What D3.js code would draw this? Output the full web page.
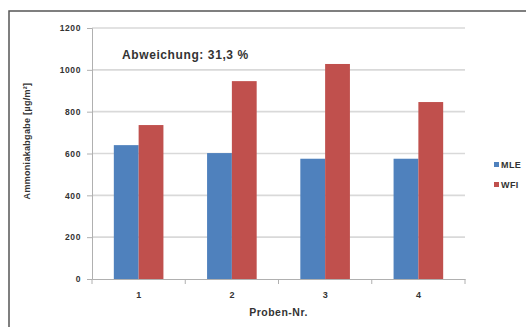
<!DOCTYPE html>
<html>
<head>
<meta charset="utf-8">
<script src="https://cdn.jsdelivr.net/npm/d3@7"></script>
<style>
  html, body { margin: 0; padding: 0; background: #fff; }
  svg { display: block; font-family: Arial, "Liberation Sans", sans-serif; }
</style>
</head>
<body>
<svg id="chart" width="526" height="327"></svg>
<script>
// Ammonia release per sample, two measuring methods
const categories = ["1", "2", "3", "4"];
const seriesNames = ["MLE", "WFI"];
const mleValues = [640, 602, 575, 575];
const wfiValues = [736, 946, 1028, 846];
const yTicks = [0, 200, 400, 600, 800, 1000, 1200];
const colors = ["#4f81bd", "#c0504d"];
const annotation = "Abweichung: 31,3 %";
const xTitle = "Proben-Nr.";
const yTitle = "Ammoniakabgabe [µg/m²]";

const svg = d3.select("#chart");

// outer frame
svg.append("rect")
  .attr("x", 9).attr("y", 11)
  .attr("width", 540).attr("height", 340)
  .attr("fill", "none").attr("stroke", "#555").attr("stroke-width", 1.5);

const plot = { left: 92, right: 465, top: 28, bottom: 279 };

const x = d3.scaleBand().domain(categories).range([plot.left, plot.right]);
const xSub = d3.scaleBand().domain(seriesNames)
  .range([0, x.bandwidth()]).paddingOuter(0.88).paddingInner(0);
const y = d3.scaleLinear().domain([0, 1200]).range([plot.bottom, plot.top]);

// gridlines
svg.append("g")
  .selectAll("line")
  .data(yTicks.filter(d => d > 0))
  .join("line")
  .attr("x1", plot.left).attr("x2", plot.right)
  .attr("y1", d => y(d)).attr("y2", d => y(d))
  .attr("stroke", "#d9d9d9").attr("stroke-width", 1.6);

// bars
const rows = categories.map((c, i) => ({ cat: c, vals: [mleValues[i], wfiValues[i]] }));
const groups = svg.append("g").selectAll("g")
  .data(rows).join("g")
  .attr("transform", d => `translate(${x(d.cat)},0)`);
groups.selectAll("rect")
  .data(d => d.vals.map((v, j) => ({ name: seriesNames[j], v, j })))
  .join("rect")
  .attr("x", d => xSub(d.name))
  .attr("width", xSub.bandwidth())
  .attr("y", d => y(d.v))
  .attr("height", d => y(0) - y(d.v))
  .attr("fill", d => colors[d.j]);

// y axis
const yAxis = svg.append("g")
  .attr("transform", `translate(${plot.left},0)`)
  .call(d3.axisLeft(y).tickValues(yTicks).tickSize(5).tickPadding(6).tickFormat(d3.format("d")));
yAxis.select(".domain").attr("stroke", "#b0b0b0");
yAxis.selectAll(".tick line").attr("stroke", "#b0b0b0");
yAxis.selectAll("text").attr("font-size", 8.5).attr("letter-spacing", 0.6)
  .attr("font-weight", "bold").attr("fill", "#333");

// x axis with boundary ticks
const xAxis = svg.append("g")
  .attr("transform", `translate(0,${plot.bottom})`)
  .call(d3.axisBottom(x).tickSize(0).tickPadding(13));
xAxis.select(".domain").attr("stroke", "#b0b0b0");
xAxis.selectAll("text").attr("font-size", 9).attr("font-weight", "bold").attr("fill", "#333");
const bounds = categories.map(c => x(c)).concat([x(categories[categories.length - 1]) + x.bandwidth()]);
xAxis.selectAll("line.bound").data(bounds).join("line")
  .attr("class", "bound")
  .attr("x1", d => d).attr("x2", d => d)
  .attr("y1", 0).attr("y2", 5)
  .attr("stroke", "#b0b0b0");

// titles
svg.append("text")
  .attr("x", (plot.left + plot.right) / 2).attr("y", 316)
  .attr("text-anchor", "middle")
  .attr("font-size", 10.5).attr("letter-spacing", 0.5)
  .attr("font-weight", "bold").attr("fill", "#333")
  .text(xTitle);

svg.append("text")
  .attr("transform", "translate(30,141) rotate(-90)")
  .attr("text-anchor", "middle")
  .attr("font-size", 9).attr("letter-spacing", 0.3)
  .attr("font-weight", "bold").attr("fill", "#333")
  .text(yTitle);

svg.append("text")
  .attr("x", 122).attr("y", 59)
  .attr("font-size", 12).attr("letter-spacing", 0.6)
  .attr("font-weight", "bold").attr("fill", "#333")
  .text(annotation);

// legend
const legend = svg.append("g").selectAll("g")
  .data(seriesNames).join("g")
  .attr("transform", (d, i) => `translate(494,${165 + i * 20})`);
legend.append("rect")
  .attr("x", 0).attr("y", -3).attr("width", 5).attr("height", 5)
  .attr("fill", (d, i) => colors[i]);
legend.append("text")
  .attr("x", 7).attr("y", 2.5)
  .attr("font-size", 9).attr("letter-spacing", 0.4)
  .attr("font-weight", "bold").attr("fill", "#333")
  .text(d => d);
</script>
</body>
</html>
